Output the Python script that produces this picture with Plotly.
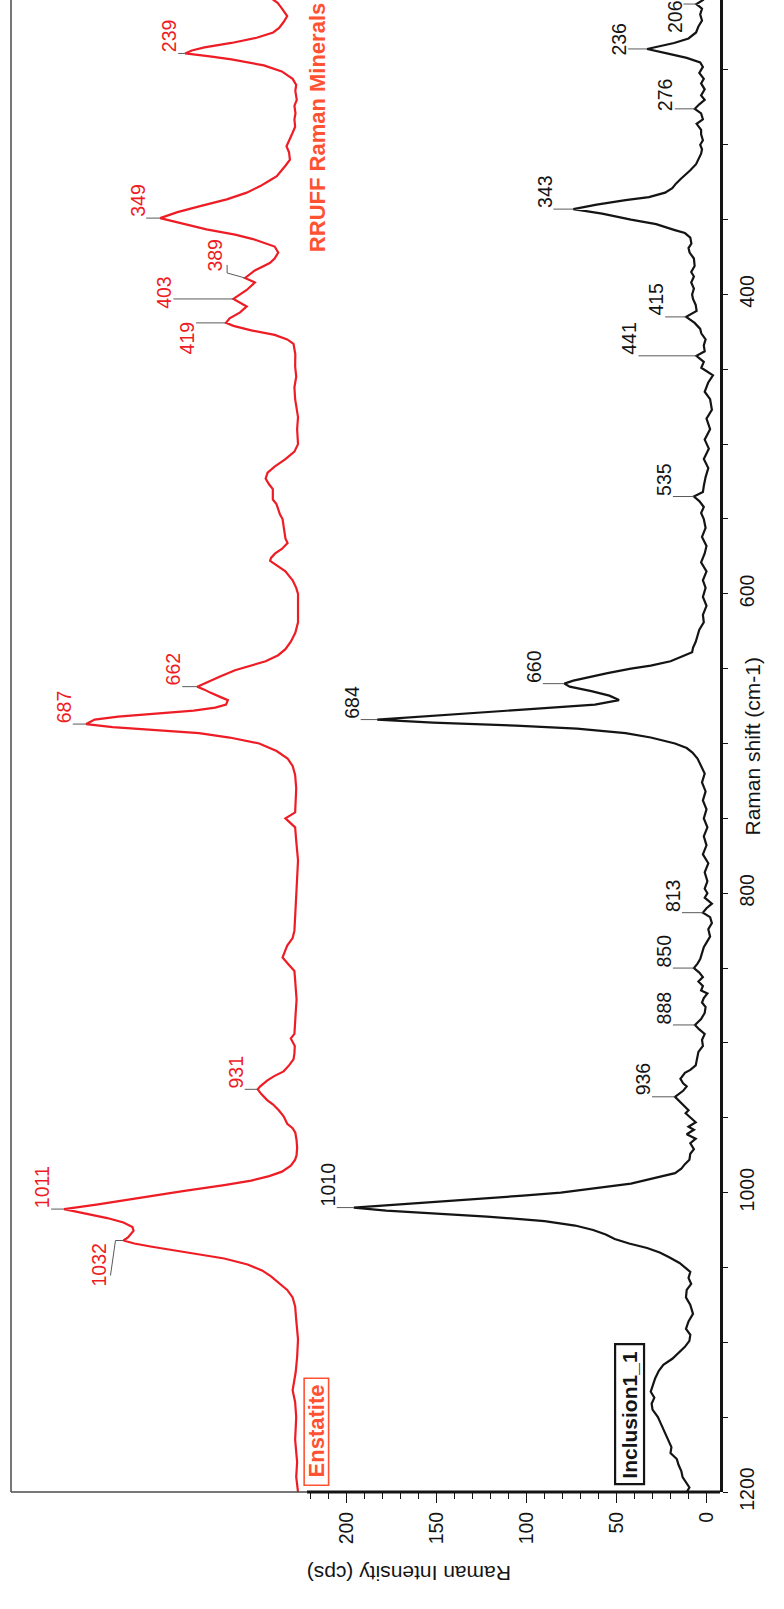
import plotly.graph_objects as go

# ---------------------------------------------------------------
# Inclusion1_1 : measured Raman spectrum (shift in cm-1, counts in cps)
# ---------------------------------------------------------------
incl_shift = [
    203, 206, 209, 213, 217, 221, 225, 229, 232, 236, 239, 242, 245, 248, 252, 256, 259, 263, 267, 270,
    273, 276, 279, 283, 286, 290, 293, 297, 300, 303, 306, 310, 313, 317, 320, 323, 326, 329, 332, 335,
    337, 340, 343, 346, 350, 353, 357, 359, 362, 366, 369, 372, 376, 381, 385, 388, 392, 396, 400, 403,
    407, 411, 415, 419, 423, 426, 430, 434, 438, 441, 445, 449, 454, 459, 465, 470, 477, 483, 490, 497,
    503, 510, 516, 522, 528, 532, 535, 538, 542, 546, 550, 556, 562, 568, 573, 579, 585, 591, 596, 602,
    608, 614, 619, 624, 628, 632, 636, 639, 642, 645, 648, 650, 653, 656, 658, 660, 662, 665, 668, 671,
    674, 677, 680, 682, 684, 686, 688, 690, 693, 696, 700, 703, 706, 710, 715, 720, 726, 732, 738, 744,
    750, 756, 762, 768, 774, 780, 786, 792, 797, 800, 803, 807, 810, 813, 816, 820, 824, 829, 833, 836,
    840, 844, 847, 850, 853, 856, 859, 862, 865, 867, 870, 873, 876, 880, 884, 888, 891, 894, 898, 902,
    906, 911, 915, 918, 920, 924, 927, 929, 932, 936, 939, 942, 945, 947, 950, 953, 956, 958, 961, 964,
    967, 971, 974, 978, 981, 984, 987, 989, 991, 994, 996, 998, 1000, 1002, 1005, 1008, 1010, 1012, 1014, 1016,
    1019, 1022, 1025, 1028, 1031, 1034, 1037, 1040, 1043, 1047, 1050, 1053, 1057, 1061, 1065, 1070, 1075, 1081, 1086, 1091,
    1095, 1099, 1103, 1106, 1111, 1115, 1119, 1124, 1129, 1133, 1137, 1141, 1145, 1150, 1154, 1158, 1162, 1166, 1170, 1174,
    1178, 1182, 1186, 1190, 1194, 1197, 1200,
]
incl_counts = [
    1.5, 5.6, 2.5, 3.5, 2.5, 4.5, 5.8, 10, 18, 33, 22, 11, 3.5, 2, 4, 1.5, 3, 1, 3, 1,
    4, 6.5, 3, 2, 5.5, 3, 3, 2, 3.5, 2.5, 3, 4.5, 5.8, 9, 12, 14.5, 17, 19, 23, 32,
    45, 61, 74, 58, 42, 28, 17.6, 12, 9, 8.4, 10, 9.4, 7, 6.6, 8.5, 7, 8.5, 7, 8, 7.5,
    6, 5.5, 11.3, 6.6, 3.5, 2.9, 0.5, 1.5, 1, 5.6, 1.5, 2.9, -3.6, -0.9, 1, -2, -3, 0, -2, 1,
    -1.3, 1.5, -1, 0.5, 1.5, 2, 7, 4, 1.5, 3, 1.5, 0.5, 2.5, 0, 1, 3, 0, 2, 0.5, 2,
    0, 2, 1.5, 4, 5, 6, 7.5, 8, 14, 20, 31, 42, 55, 67, 74, 79, 76, 64, 54, 48.6,
    62, 98, 135, 164, 183, 152, 106, 72, 45, 31, 17.5, 11, 7.8, 5, 3, 1, 2.5, 0.5, 2, 0,
    1.5, -0.5, 1.5, 0, 2, -1, 1, -0.5, 1, -0.5, 1, -3, 0, 2, -2, -3, -1, -2, 0, 1.5,
    2.5, 3.5, 5, 7, 4, 2, 4.5, 2, 3, -0.5, 1.5, 2.5, 0.5, 1, 3, 6.4, 4, 1, 2.5, 2,
    4.5, 5.5, 6, 9, 12, 14.5, 13, 11, 13, 17.5, 15, 12, 10, 11.6, 9, 6, 10, 7, 11, 6,
    9, 7, 9, 9.5, 12, 14, 17.5, 25, 31, 42, 55, 68, 81, 102, 138, 178, 196, 178, 150, 122,
    90, 73, 63, 56, 51, 43, 33, 26, 21, 15, 12, 9, 10, 8.5, 11, 11.4, 9, 7.5, 10, 11.4,
    9, 9.5, 12, 14.7, 19, 24, 26.5, 28.5, 30, 31, 29, 30.5, 30, 27, 25.5, 24, 22.5, 21, 19.5, 20,
    16.5, 15.5, 14, 13.3, 11, 9.5, 11,
]

# ---------------------------------------------------------------
# Enstatite : RRUFF reference spectrum, stacked above the measurement
# ---------------------------------------------------------------
ens_shift = [
    203, 205, 208, 211, 214, 218, 222, 225, 228.5, 232, 235, 237, 239, 241, 243, 247, 251, 256, 260, 264,
    270, 274, 279, 283, 288, 292, 296, 301, 305, 310, 314, 318, 321, 324, 327.6, 332, 336.5, 341, 345, 349,
    352, 356.5, 360, 363, 368, 372, 376, 379, 384, 389, 392, 397, 403, 405, 408, 412, 416, 419, 421, 424,
    427, 430, 433, 440, 448, 455, 462, 470, 482, 490, 500, 505, 510, 515, 519, 523, 527, 530, 534, 537,
    540, 544, 547, 550, 555, 560, 563, 566, 570, 573, 576, 578, 581, 585, 588, 591, 596, 600, 610, 619,
    626, 632, 637, 641, 645, 648, 651, 655, 658, 662, 664, 666, 669, 671, 674, 676, 678, 680, 682, 684,
    687, 689, 691, 693, 696, 700, 705, 710, 715, 721, 730, 740, 746, 750, 753, 756, 765, 778, 790, 800,
    812, 825, 830, 835, 838, 843, 848, 852, 858, 871, 880, 889, 894, 897, 902, 907, 911, 915, 919, 922,
    925, 929, 931, 934, 938, 941, 945, 949, 954, 957, 960, 965, 970, 975, 978, 982, 986, 989, 992, 995,
    997, 999, 1002, 1005, 1008, 1011, 1014, 1017, 1020, 1023, 1025.5, 1028, 1030, 1032, 1034, 1036, 1040, 1044, 1048, 1052,
    1056, 1060, 1065, 1070, 1076, 1085, 1098, 1110, 1120, 1132, 1140, 1150, 1165, 1180, 1190, 1200,
]
ens_counts = [
    241, 238.5, 236.5, 234.5, 233, 235, 237.5, 240.8, 250, 264, 279, 286, 289.7, 276, 264, 246, 236, 230, 228, 228.5,
    227.7, 229, 228.4, 229, 228.6, 230, 231.5, 233.4, 232, 231.5, 234, 237, 238.8, 243, 248, 255.5, 266.6, 281.4, 294, 303.6,
    293, 277.9, 262, 252, 240, 238, 240, 242.7, 251, 256.4, 251, 255.5, 262.9, 260, 255.5, 259.2, 265, 267, 262.9, 253,
    240, 233, 229.5, 228.5, 228.6, 228, 229, 228.6, 227, 227.5, 227, 229, 234, 240, 243.9, 245, 243, 241, 241, 241,
    239, 238, 237, 235.6, 235, 234, 234, 232.8, 236, 239.7, 242, 242.5, 239, 234, 232, 230, 228, 227, 227, 227,
    228.5, 231, 234, 238, 245, 253.6, 262, 270, 276, 283, 279, 275.8, 270, 266, 267, 273, 285, 305, 327, 340,
    344.7, 330, 305, 282, 265, 248.6, 238.9, 232.8, 230, 228.6, 228, 228.6, 228.6, 234, 231, 228.6, 228, 227, 227.5, 228,
    228.6, 229, 230, 233, 234, 235.6, 232, 229, 228.6, 227.8, 228.3, 228.6, 229, 231, 228.8, 229, 229.5, 232, 235, 240,
    244, 248, 249.4, 247.5, 244.3, 241, 237.7, 235, 233, 230, 228.5, 227.8, 227.5, 227.8, 228.6, 231, 235.9, 243, 253, 268,
    281, 291, 307, 322, 339, 357, 345, 333, 324, 319, 318.4, 320, 321.5, 324, 318, 309, 288, 268, 255, 247,
    242, 238, 233, 230, 228.6, 228, 227, 227.5, 228.3, 230, 228.6, 228, 228.6, 227.5, 228, 227,
]

# Labelled band positions (cm-1)
incl_peaks = [1010, 936, 888, 850, 813, 684, 660, 535, 441, 415, 343, 276, 236, 206]
ens_peaks = [1032, 1011, 931, 687, 662, 419, 403, 389, 349, 239]

# ---------------------------------------------------------------
# Figure geometry
# ---------------------------------------------------------------
W, H = 784, 1609
M_L, M_R, M_T, M_B = 11, 64, 0, 117
X_RANGE = [386.5, -7.5]        # intensity, reversed
Y_RANGE = [1200, 203.3]        # Raman shift, 1200 at the bottom
KX = (W - M_L - M_R) / (X_RANGE[0] - X_RANGE[1])   # px per cps
KY = (H - M_T - M_B) / (Y_RANGE[0] - Y_RANGE[1])   # px per cm-1

FONT = "Liberation Sans, Arial, Helvetica, sans-serif"
BLACK = "#141414"
RED = "#ee1c24"
ORANGE = "#ff5233"
LEADER = "#5a5a5a"


def at(series_x, series_y, wn):
    """Counts of a series at a labelled band."""
    return series_y[series_x.index(wn)]


def offset(i0, v0, dx, dy):
    """Move dx px right / dy px down from (i0, v0) in data units."""
    return i0 - dx / KX, v0 + dy / KY


fig = go.Figure()
fig.add_trace(go.Scatter(x=incl_counts, y=incl_shift, mode="lines",
                         line=dict(color=BLACK, width=2.2), hoverinfo="skip"))
fig.add_trace(go.Scatter(x=ens_counts, y=ens_shift, mode="lines",
                         line=dict(color=RED, width=2.2), hoverinfo="skip"))

# leader / label placement (px): leader length, extra downward shift of text
incl_place = {1010: (17, 0), 936: (23, 0), 888: (22, 0), 850: (21, 0), 813: (21, 0),
              684: (16.5, 0), 660: (21.5, 0), 535: (21, 0), 441: (58, 0), 415: (21, 0),
              343: (20, 0), 276: (20, 3), 236: (19, 8), 206: (13, 30)}
ens_place = {1011: (13, 0), 931: (13, 0), 687: (13.5, 0), 662: (15, 0),
             419: (30, 33), 403: (60, 11), 349: (14, 0), 239: (7, 0)}
# bent leaders: polyline (px offsets from the band tip) and label corner
ens_bent = {1032: ([(0, 0), (-8, 0), (-13, 35)], (-15, 47)),
            389: ([(0, 0), (-18, -5), (-18, -13)], (-21, -5))}

lead_x, lead_y = [], []
annotations = []


def add_label(text, i0, v0, path, corner, color):
    for dx, dy in path:
        xi, yi = offset(i0, v0, dx, dy)
        lead_x.append(xi)
        lead_y.append(yi)
    lead_x.append(None)
    lead_y.append(None)
    lx, ly = offset(i0, v0, corner[0] + 3, corner[1])
    annotations.append(dict(x=lx, y=ly, xref="x", yref="y", text=text, showarrow=False,
                            textangle=-90, xanchor="right", yanchor="bottom",
                            borderpad=0, font=dict(family=FONT, size=19.5, color=color)))


for wn in incl_peaks:
    lead, dy = incl_place[wn]
    add_label(str(wn), at(incl_shift, incl_counts, wn), wn,
              [(0, 0), (-lead, 0)], (-lead, dy), BLACK)
for wn in ens_peaks:
    i0 = at(ens_shift, ens_counts, wn)
    if wn in ens_bent:
        path, corner = ens_bent[wn]
        add_label(str(wn), i0, wn, path, corner, RED)
    else:
        lead, dy = ens_place[wn]
        add_label(str(wn), i0, wn, [(0, 0), (-lead, 0)], (-lead, dy), RED)

fig.add_trace(go.Scatter(x=lead_x, y=lead_y, mode="lines",
                         line=dict(color=LEADER, width=1), hoverinfo="skip"))

# series name tags
annotations += [
    dict(x=217, y=1159.5, xref="x", yref="y", text="<b>Enstatite</b>", showarrow=False,
         textangle=-90, font=dict(family=FONT, size=22, color=ORANGE)),
    dict(x=42.8, y=1148, xref="x", yref="y", text="<b>Inclusion1_1</b>", showarrow=False,
         textangle=-90, font=dict(family=FONT, size=21, color=BLACK)),
    dict(x=215.8, y=373.3, xref="x", yref="y", text="<b>RRUFF Raman Minerals</b>",
         showarrow=False, textangle=-90, xanchor="center", yanchor="bottom",
         font=dict(family=FONT, size=22, color=ORANGE)),
    # axis titles
    dict(x=1.0635, y=0.5, xref="paper", yref="paper", text="Raman shift (cm-1)",
         showarrow=False, textangle=-90, font=dict(family=FONT, size=21, color=BLACK)),
    dict(x=0.708, y=-0.0637, xref="paper", yref="paper", text="Raman Intensity (cps)",
         showarrow=False, textangle=180, font=dict(family=FONT, size=21, color=BLACK)),
]

shapes = [
    # tag frames
    dict(type="rect", xref="x", yref="y", x0=223.6, x1=210, y0=1124, y1=1195.5,
         line=dict(color=ORANGE, width=1.6)),
    dict(type="rect", xref="x", yref="y", x0=50.8, x1=34.7, y0=1101.2, y1=1194.8,
         line=dict(color=BLACK, width=2.2)),
    # plot frame: thin outer border, heavy intensity axis segment
    dict(type="line", xref="paper", yref="paper", x0=0, x1=0, y0=0, y1=1,
         line=dict(color="#4a4a4a", width=1.5)),
    dict(type="line", xref="x", yref="paper", x0=X_RANGE[0], x1=222, y0=0, y1=0,
         line=dict(color="#4a4a4a", width=1.5)),
    dict(type="line", xref="x", yref="paper", x0=222, x1=X_RANGE[1], y0=0, y1=0,
         line=dict(color=BLACK, width=3)),
]

fig.update_layout(
    width=W, height=H,
    margin=dict(l=M_L, r=M_R, t=M_T, b=M_B, pad=0),
    paper_bgcolor="white", plot_bgcolor="white",
    showlegend=False,
    annotations=annotations,
    shapes=shapes,
    xaxis=dict(range=X_RANGE, showgrid=False, zeroline=False, showline=False,
               tickvals=[0, 50, 100, 150, 200], ticks="outside", ticklen=10,
               tickwidth=1.2, tickcolor=BLACK, tickangle=-90, ticklabelstandoff=1,
               tickfont=dict(family=FONT, size=19.5, color=BLACK),
               minor=dict(tickvals=list(range(0, 221, 10)), ticks="outside",
                          ticklen=6, tickwidth=1.2, tickcolor=BLACK)),
    yaxis=dict(range=Y_RANGE, side="right", showgrid=False, zeroline=False,
               showline=True, linecolor=BLACK, linewidth=3,
               tickvals=[400, 600, 800, 1000, 1200], ticks="outside", ticklen=5,
               tickwidth=1.2, tickcolor=BLACK, tickangle=-90, ticklabelstandoff=3,
               tickfont=dict(family=FONT, size=19.5, color=BLACK),
               minor=dict(tickvals=list(range(250, 1201, 50)), ticks="outside",
                          ticklen=5, tickwidth=1.2, tickcolor=BLACK)),
)

fig.write_html("out.html")
